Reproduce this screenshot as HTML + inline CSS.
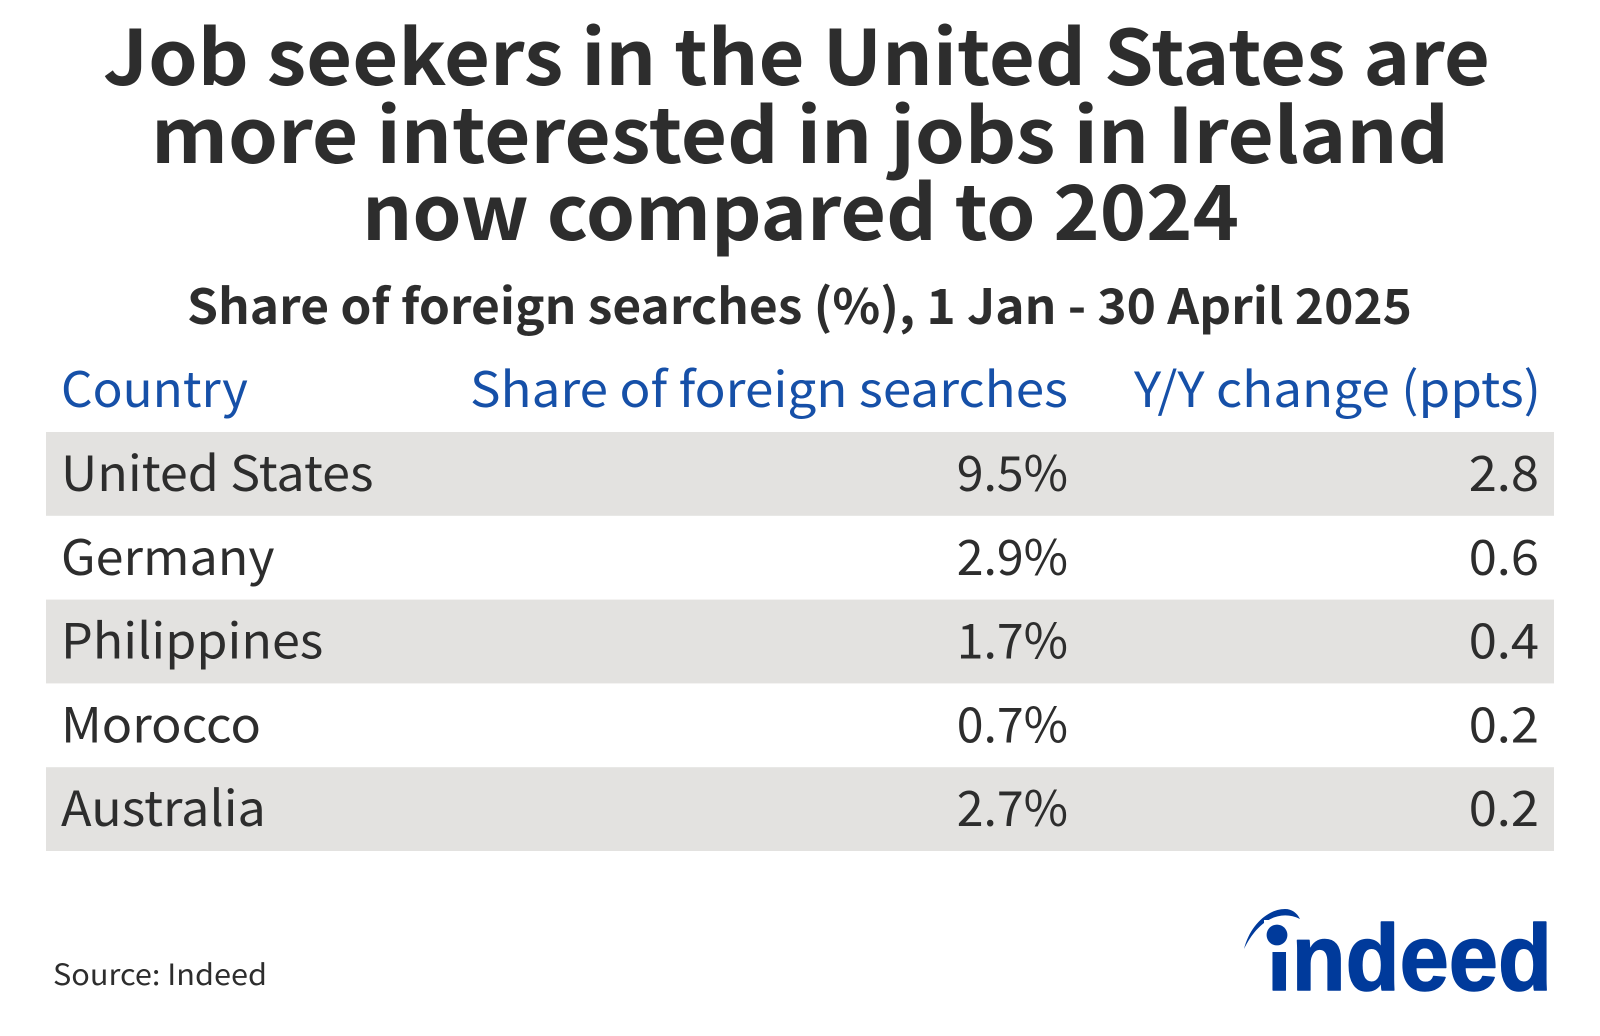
<!DOCTYPE html>
<html lang="en">
<head>
<meta charset="utf-8">
<title>Job seekers in the United States</title>
<style>
html,body{margin:0;padding:0;background:#fff;width:1600px;height:1036px;overflow:hidden}
svg{display:block}
text{font-family:"Liberation Sans","Noto Sans CJK JP",sans-serif}
.n{font-family:"Noto Sans CJK JP","Liberation Sans",sans-serif;fill:#2d2d2d}
.t{font-size:76px;font-weight:700}
.s{font-size:48.7px;font-weight:700}
.h{font-size:48.7px;font-weight:400;fill:#1650a8}
.c{font-size:48.7px;font-weight:400}
</style>
</head>
<body>
<svg id="chart" width="1600" height="1036" viewBox="0 0 1600 1036" xmlns="http://www.w3.org/2000/svg">
  <rect width="1600" height="1036" fill="#fff"/>
  <text class="n t" x="103" y="85" textLength="1387" lengthAdjust="spacingAndGlyphs">Job seekers in the United States are</text>
  <text class="n t" x="151" y="163" textLength="1298" lengthAdjust="spacingAndGlyphs">more interested in jobs in Ireland</text>
  <text class="n t" x="362" y="240" textLength="877" lengthAdjust="spacingAndGlyphs">now compared to 2024</text>
  <text class="n s" x="187" y="324" textLength="1225" lengthAdjust="spacingAndGlyphs">Share of foreign searches (%), 1 Jan - 30 April 2025</text>
  <text class="n h" x="61" y="407" textLength="187" lengthAdjust="spacingAndGlyphs">Country</text>
  <text class="n h" x="470" y="407" textLength="598" lengthAdjust="spacingAndGlyphs">Share of foreign searches</text>
  <text class="n h" x="1134" y="407" textLength="407" lengthAdjust="spacingAndGlyphs">Y/Y change (ppts)</text>
  <g id="rows"></g>
  <text class="n" x="53" y="985" font-size="29" textLength="214" lengthAdjust="spacingAndGlyphs">Source: Indeed</text>
  <g fill="#003a9b">
    <path d="M1244 949C1250 925 1268 909 1285 909C1292 909 1297 913 1300 919C1280 909 1258 920 1244 949Z"/>
    <text x="1267" y="990" font-size="94" font-weight="700" textLength="285" lengthAdjust="spacingAndGlyphs" stroke="#003a9b" stroke-width="1.5" stroke-linejoin="round" style="font-family:'Liberation Sans',sans-serif">indeed</text>
    <rect x="1264" y="920" width="28" height="32" fill="#fff"/>
    <circle cx="1277" cy="935" r="10.4"/>
  </g>
</svg>
<script>
var countries = ["United States","Germany","Philippines","Morocco","Australia"];
var shares = [9.5,2.9,1.7,0.7,2.7];
var changes = [2.8,0.6,0.4,0.2,0.2];

var NS = "http://www.w3.org/2000/svg";
var rowsGroup = document.getElementById("rows");
var ROW_TOP = 432, ROW_H = 83.8, ROW_L = 46, ROW_R = 1554, SX_NAME = 1.032, SX_SHARE = 0.99, SX_CHANGE = 1.04;
function rowY(i){ return ROW_TOP + i * ROW_H; }
function addText(parent, str, x, y, anchor, sx){
  var t = document.createElementNS(NS, "text");
  t.setAttribute("class", "n c");
  t.setAttribute("transform", "translate(" + x + "," + y + ") scale(" + sx + ",1)");
  t.setAttribute("text-anchor", anchor);
  t.textContent = str;
  parent.appendChild(t);
  return t;
}
countries.forEach(function(name, i){
  var g = document.createElementNS(NS, "g");
  
  
  if (i % 2 === 0) {
    var r = document.createElementNS(NS, "rect");
    r.setAttribute("x", ROW_L);
    r.setAttribute("y", rowY(i));
    r.setAttribute("width", ROW_R - ROW_L);
    r.setAttribute("height", ROW_H);
    r.setAttribute("fill", "#e3e2e0");
    
    
    g.appendChild(r);
  }
  var base = rowY(i) + 59;
  var c = addText(g, name, 61, base, "start", SX_NAME);
  
  
  var s = addText(g, shares[i].toFixed(1) + "%", 1068, base, "end", SX_SHARE);
  
  
  var d = addText(g, changes[i].toFixed(1), 1539, base, "end", SX_CHANGE);
  
  
  rowsGroup.appendChild(g);
});
</script>
</body>
</html>
